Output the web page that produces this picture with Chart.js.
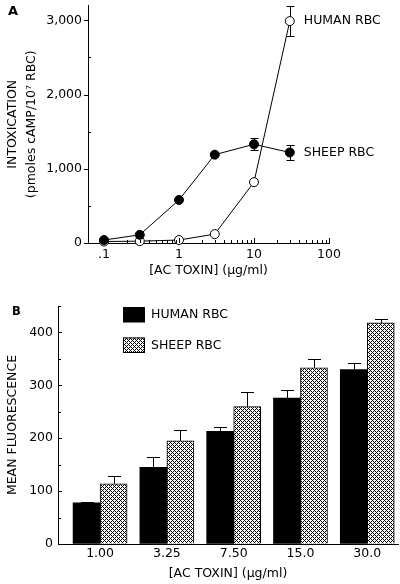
<!DOCTYPE html>
<html>
<head>
<meta charset="utf-8">
<script src="https://cdn.jsdelivr.net/npm/chart.js@4"></script>
<style>
  body { margin: 0; background: #fff; }
  #wrap { position: relative; width: 400px; height: 584px; background: #fff; }
  #chartA { position: absolute; left: 0; top: 0; }
  #chartB { position: absolute; left: 0; top: 280px; }
</style>
</head>
<body>
<div id="wrap">
  <canvas id="chartA" width="400" height="280"></canvas>
  <canvas id="chartB" width="400" height="304"></canvas>
</div>
<script>
// panel A - cAMP intoxication vs toxin dose
const doses = [0.1, 0.3, 1, 3, 10, 30];
const sheepCamp = [40, 110, 580, 1190, 1330, 1220];
const sheepCampErr = [0, 0, 0, 0, 80, 100];
const humanCamp = [20, 25, 40, 120, 820, 2990];
const humanCampErr = [0, 0, 0, 0, 0, 200];
const doseTicks = [0.1, 1, 10, 100];
const campTicks = [0, 1000, 2000, 3000];

// panel B - mean fluorescence
const toxinLabels = ['1.00', '3.25', '7.50', '15.0', '30.0'];
const humanFluor = [78, 145, 213, 276, 330];
const humanFluorErr = [2, 20, 8, 15, 12];
const sheepFluor = [114, 195, 260, 333, 418];
const sheepFluorErr = [14, 20, 27, 16, 7];
const fluorTicks = [0, 100, 200, 300, 400];

Chart.defaults.font.family = '"DejaVu Sans", sans-serif';
Chart.defaults.font.size = 12.5;
Chart.defaults.color = '#000';
Chart.defaults.animation = false;

// small tick marks drawn inside / outside the axes
const tickMarks = {
  id: 'tickMarks',
  afterDraw(chart, args, opts) {
    const ctx = chart.ctx;
    ctx.save();
    ctx.strokeStyle = '#000';
    ctx.lineWidth = 1;
    (opts.marks || []).forEach(m => {
      const s = chart.scales[m.axis];
      m.values.forEach(v => {
        const p = Math.round(s.getPixelForValue(v)) + 0.5;
        ctx.beginPath();
        if (s.isHorizontal()) {
          ctx.moveTo(p, s.top + m.from);
          ctx.lineTo(p, s.top + m.to);
        } else {
          ctx.moveTo(s.right + m.from, p);
          ctx.lineTo(s.right + m.to, p);
        }
        ctx.stroke();
      });
    });
    ctx.restore();
  }
};

function drawErrors(chart, opts) {
  const ctx = chart.ctx;
  const y = chart.scales.y;
  ctx.save();
  ctx.strokeStyle = '#000';
  ctx.lineWidth = 1;
  chart.data.datasets.forEach((ds, i) => {
    const meta = chart.getDatasetMeta(i);
    meta.data.forEach((el, j) => {
      const e = ds.errors[j];
      if (!e) return;
      const v = ds.data[j].y;
      const x = Math.round(el.x) + 0.5;
      const top = Math.round(y.getPixelForValue(v + e)) + 0.5;
      const bot = opts.upOnly ? y.getPixelForValue(v) : Math.round(y.getPixelForValue(v - e)) + 0.5;
      ctx.beginPath();
      ctx.moveTo(x, bot); ctx.lineTo(x, top);
      ctx.moveTo(x - opts.cap / 2, top); ctx.lineTo(x + opts.cap / 2, top);
      if (!opts.upOnly) { ctx.moveTo(x - opts.cap / 2, bot); ctx.lineTo(x + opts.cap / 2, bot); }
      ctx.stroke();
    });
  });
  ctx.restore();
}

const errorBars = {
  id: 'errorBars',
  beforeDatasetsDraw(chart, args, opts) { if (opts.behind) drawErrors(chart, opts); },
  afterDatasetsDraw(chart, args, opts) { if (!opts.behind) drawErrors(chart, opts); }
};

const panelLetter = {
  id: 'panelLetter',
  afterDraw(chart, args, opts) {
    const ctx = chart.ctx;
    ctx.save();
    ctx.font = 'bold ' + opts.size + 'px "DejaVu Sans"';
    ctx.fillStyle = '#000';
    ctx.textBaseline = 'middle';
    ctx.fillText(opts.text, opts.x, opts.y);
    ctx.restore();
  }
};

// labels written next to the last point of each curve
const endLabels = {
  id: 'endLabels',
  afterDatasetsDraw(chart) {
    const ctx = chart.ctx;
    ctx.save();
    ctx.font = '12.5px "DejaVu Sans"';
    ctx.fillStyle = '#000';
    ctx.textBaseline = 'middle';
    chart.data.datasets.forEach((ds, i) => {
      const pts = chart.getDatasetMeta(i).data;
      const last = pts[pts.length - 1];
      ctx.fillText(ds.label, last.x + 14, last.y);
    });
    ctx.restore();
  }
};

const boxLegend = {
  id: 'boxLegend',
  afterDraw(chart) {
    const ctx = chart.ctx;
    const ca = chart.chartArea;
    ctx.save();
    ctx.font = '12.5px "DejaVu Sans"';
    ctx.textBaseline = 'middle';
    chart.data.datasets.forEach((ds, i) => {
      const bx = ca.left + 65, by = ca.top + 1 + i * 30.5;
      ctx.fillStyle = ds.backgroundColor;
      ctx.fillRect(bx, by, 22, 15.5);
      if (ds.borderWidth) {
        ctx.strokeStyle = '#000';
        ctx.lineWidth = 1;
        ctx.strokeRect(bx + 0.5, by + 0.5, 21, 14.5);
      }
      ctx.fillStyle = '#000';
      ctx.fillText(ds.label, bx + 28, by + 8);
    });
    ctx.restore();
  }
};

const minorDoses = [];
[0.1, 1, 10].forEach(d => { for (let k = 2; k <= 9; k++) minorDoses.push(d * k); });

new Chart(document.getElementById('chartA'), {
  type: 'line',
  data: {
    datasets: [
      {
        label: 'SHEEP RBC',
        data: doses.map((d, i) => ({ x: d, y: sheepCamp[i] })),
        errors: sheepCampErr,
        borderColor: '#000', borderWidth: 1,
        pointRadius: 4.5, pointBackgroundColor: '#000', pointBorderColor: '#000', pointBorderWidth: 1,
        clip: false
      },
      {
        label: 'HUMAN RBC',
        data: doses.map((d, i) => ({ x: d, y: humanCamp[i] })),
        errors: humanCampErr,
        borderColor: '#000', borderWidth: 1,
        pointRadius: 4.5, pointBackgroundColor: '#fff', pointBorderColor: '#000', pointBorderWidth: 1,
        clip: false
      }
    ]
  },
  options: {
    responsive: false,
    layout: { padding: { left: 0, top: 5, right: 71, bottom: 0 } },
    plugins: {
      legend: { display: false },
      tooltip: { enabled: false },
      errorBars: { behind: true, cap: 8, upOnly: false },
      panelLetter: { text: 'A', x: 8, y: 11.5, size: 13 },
      tickMarks: {
        marks: [
          { axis: 'x', values: doseTicks, from: 0, to: -5 },
          { axis: 'x', values: minorDoses, from: 0, to: -3 },
          { axis: 'y', values: campTicks, from: -4, to: 0 },
          { axis: 'y', values: [500, 1500, 2500], from: 0, to: 3 }
        ]
      }
    },
    scales: {
      x: {
        type: 'logarithmic',
        min: 0.0612, max: 100,
        afterBuildTicks: s => { s.ticks = doseTicks.map(v => ({ value: v })); },
        afterFit: s => { s.height = 37; s.paddingLeft = 0; s.paddingRight = 0; },
        ticks: {
          autoSkip: false, maxRotation: 0, padding: 4,
          callback: v => String(v).replace(/^0\./, '.')
        },
        grid: { display: true, drawOnChartArea: false, drawTicks: false },
        border: { color: '#000', width: 1 },
        title: { display: true, text: '[AC TOXIN] (µg/ml)', padding: { top: 0, bottom: 1.5 } }
      },
      y: {
        min: 0, max: 3200,
        afterBuildTicks: s => { s.ticks = campTicks.map(v => ({ value: v })); },
        afterFit: s => { s.width = 88; s.paddingTop = 0; s.paddingBottom = 0; },
        ticks: { padding: 6, callback: v => v.toLocaleString('en-US') },
        grid: { display: true, drawOnChartArea: false, drawTicks: false },
        border: { color: '#000', width: 1 },
        title: {
          display: true,
          text: ['INTOXICATION', '(pmoles cAMP/10⁷ RBC)'],
          font: { size: 12.5, lineHeight: 1.5 },
          padding: { top: 3.6, bottom: 0 }
        }
      }
    }
  },
  plugins: [errorBars, tickMarks, panelLetter, endLabels]
});

// crosshatch fill for the sheep bars (diagonal lattice, 4px period)
const ctxB = document.getElementById('chartB').getContext('2d');
const tile = document.createElement('canvas');
tile.width = 4; tile.height = 4;
const tg = tile.getContext('2d');
tg.fillStyle = '#fff';
tg.fillRect(0, 0, 4, 4);
tg.fillStyle = '#000';
for (let a = 0; a < 4; a++) {
  for (let b = 0; b < 4; b++) {
    if ((a + b) % 4 === 0 || (a - b + 4) % 4 === 0) tg.fillRect(a, b, 1, 1);
  }
}
const hatch = ctxB.createPattern(tile, 'repeat');

new Chart(ctxB, {
  type: 'bar',
  data: {
    datasets: [
      {
        label: 'HUMAN RBC',
        data: humanFluor.map((v, i) => ({ x: i, y: v })),
        errors: humanFluorErr,
        backgroundColor: '#000', borderWidth: 0, barThickness: 27
      },
      {
        label: 'SHEEP RBC',
        data: sheepFluor.map((v, i) => ({ x: i, y: v })),
        errors: sheepFluorErr,
        backgroundColor: hatch, borderColor: '#000', borderWidth: 1, barThickness: 27
      }
    ]
  },
  options: {
    responsive: false,
    layout: { padding: { left: 0, top: 26, right: 2, bottom: 0 } },
    plugins: {
      legend: { display: false },
      tooltip: { enabled: false },
      errorBars: { behind: false, cap: 13, upOnly: true },
      panelLetter: { text: 'B', x: 12, y: 32.5, size: 11.5 },
      tickMarks: {
        marks: [
          { axis: 'y', values: fluorTicks, from: 0, to: 4 },
          { axis: 'y', values: [50, 150, 250, 350, 450], from: 0, to: 3 }
        ]
      }
    },
    scales: {
      x: {
        type: 'linear',
        offset: false,
        min: -0.63, max: 4.46,
        afterBuildTicks: s => { s.ticks = toxinLabels.map((_, i) => ({ value: i })); },
        afterFit: s => { s.height = 40; s.paddingLeft = 0; s.paddingRight = 0; },
        ticks: { autoSkip: false, maxRotation: 0, padding: 2, callback: v => toxinLabels[v] ?? '' },
        grid: { display: true, offset: false, drawOnChartArea: false, drawTicks: false },
        border: { color: '#000', width: 1 },
        title: { display: true, text: '[AC TOXIN] (µg/ml)', padding: { top: 0, bottom: 2.5 } }
      },
      y: {
        min: 0, max: 450,
        afterBuildTicks: s => { s.ticks = fluorTicks.map(v => ({ value: v })); },
        afterFit: s => { s.width = 58; s.paddingTop = 0; s.paddingBottom = 0; },
        ticks: { padding: 5 },
        grid: { display: true, drawOnChartArea: false, drawTicks: false },
        border: { color: '#000', width: 1 },
        title: { display: true, text: 'MEAN FLUORESCENCE', padding: { top: 5.5, bottom: 0 } }
      }
    }
  },
  plugins: [errorBars, tickMarks, panelLetter, boxLegend]
});
</script>
</body>
</html>
